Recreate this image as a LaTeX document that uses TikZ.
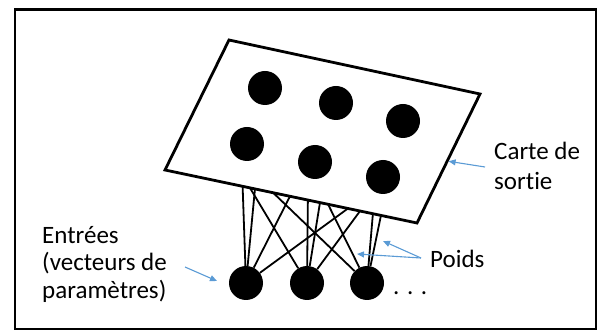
\documentclass[tikz,border=0pt]{standalone}
\usepackage{fontspec}
\setmainfont{Carlito}[Ligatures=NoCommon]
\usetikzlibrary{arrows.meta, calc}
\definecolor{note blue}{RGB}{91,155,213}
\tikzset{
  som unit/.style={
    circle, fill=black, draw=none,
    minimum size=34pt, inner sep=0pt
  },
  som map/.style={
    line width=2.8pt, line join=miter
  },
  som link/.style={
    line width=1.8pt
  },
  som label/.style={
    font=\fontsize{25}{30}\selectfont, align=left, inner sep=0pt
  },
  som arrow/.style={
    -{Triangle[length=7pt,width=6pt]}, draw=note blue, line width=1.1pt
  },
  som frame/.style={
    line width=2.4pt
  }
}

\begin{document}
\begin{tikzpicture}[x=1pt, y=-1pt]
  \useasboundingbox (0,0) rectangle (598,331);
  \draw [som frame] (14.7,9.5) rectangle (595.8,329.2);

  % corners of the output map
  \coordinate (tl) at (229,40);
  \coordinate (tr) at (480,94);
  \coordinate (br) at (417,223);
  \coordinate (bl) at (165,170);

  % where the weights meet the map
  \coordinate (e1) at ($(bl)!0.308!(br)$);
  \coordinate (e2) at ($(bl)!0.337!(br)$);
  \coordinate (e3) at ($(bl)!0.357!(br)$);
  \coordinate (e4) at ($(bl)!0.429!(br)$);
  \coordinate (e5) at ($(bl)!0.496!(br)$);
  \coordinate (e6) at ($(bl)!0.567!(br)$);
  \coordinate (e7) at ($(bl)!0.615!(br)$);
  \coordinate (e8) at ($(bl)!0.647!(br)$);
  \coordinate (e9) at ($(bl)!0.726!(br)$);
  \coordinate (e10) at ($(bl)!0.774!(br)$);
  \coordinate (e11) at ($(bl)!0.825!(br)$);
  \coordinate (e12) at ($(bl)!0.857!(br)$);

  % inputs
  \node (in1) [som unit] at (246,283) {};
  \node (in2) [som unit] at (307,283) {};
  \node (in3) [som unit] at (367,283) {};

  \draw [som link] (e1) -- (in1);
  \draw [som link] (e3) -- (in1);
  \draw [som link] (e5) -- (in1);
  \draw [som link] (e9) -- (in1);
  \draw [som link] (e2) -- (in2);
  \draw [som link] (e6) -- (in2);
  \draw [som link] (e7) -- (in2);
  \draw [som link] (e10) -- (in2);
  \draw [som link] (e4) -- (in3);
  \draw [som link] (e8) -- (in3);
  \draw [som link] (e11) -- (in3);
  \draw [som link] (e12) -- (in3);

  \draw [som map] (tl) -- (tr) -- (br) -- (bl) -- cycle;

  % units of the map
  \node (m1) [som unit] at (265,88) {};
  \node (m2) [som unit] at (336,103) {};
  \node (m3) [som unit] at (403,121) {};
  \node (m4) [som unit] at (247,144) {};
  \node (m5) [som unit] at (315,162) {};
  \node (m6) [som unit] at (383,177) {};

  \node (dots) [som label, anchor=base west] at (393,295) {. . .};

  % labels
  \node (carte) [som label, anchor=west] at (494,166) {Carte de\\sortie};
  \node (poids) [som label, anchor=west] at (430,259) {Poids};
  \node (entrees) [som label, anchor=west, font=\fontsize{25}{27.5}\selectfont]
    at (42,264) {Entrées\\(vecteurs de\\paramètres)};

  \coordinate (carte tip) at ($(tr)!0.52!(br)$);
  \coordinate (poids tip1) at (383,241);
  \coordinate (poids tip2) at (357,254);
  \coordinate (entrees tip) at (217,281);

  \draw [som arrow, shorten >=1.4pt] ([shift={(-9,1)}]carte.west) -- (carte tip);
  \draw [som arrow] ([shift={(-9,-1)}]poids.west) -- (poids tip1);
  \draw [som arrow] ([shift={(-9,-1)}]poids.west) -- (poids tip2);
  \draw [som arrow] ([shift={(18,3)}]entrees.east) -- (entrees tip);
\end{tikzpicture}
\end{document}
